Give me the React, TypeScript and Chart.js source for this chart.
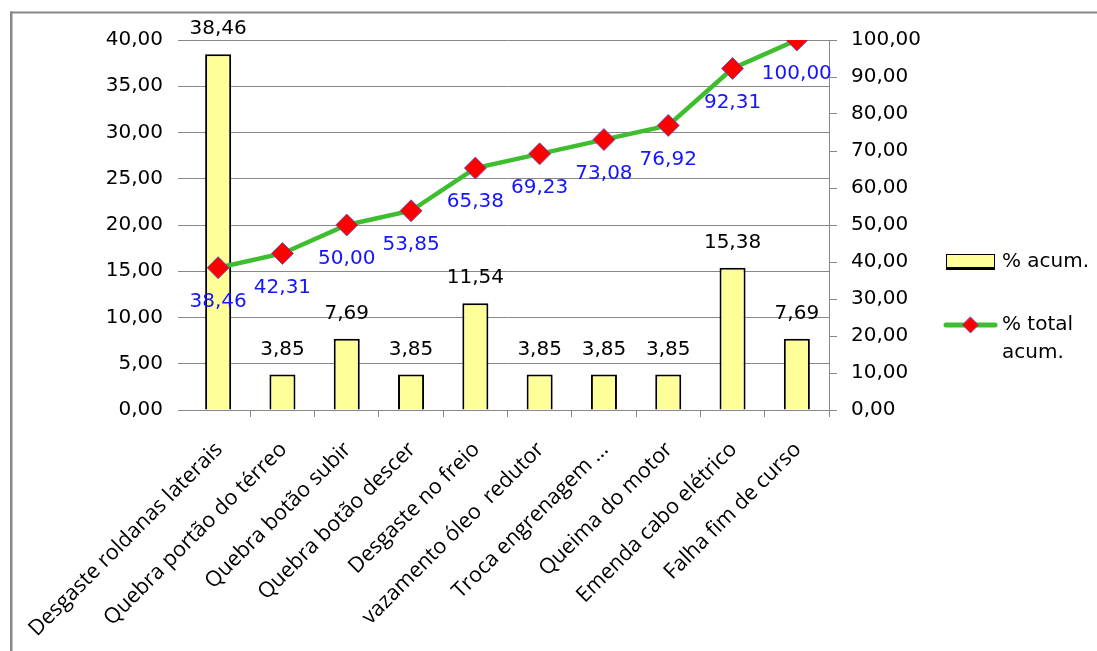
import React, { useEffect, useRef } from 'react';
import { Chart, registerables } from 'chart.js';

Chart.register(...registerables);

const categories = [
  'Desgaste roldanas laterais',
  'Quebra portão do térreo',
  'Quebra botão subir',
  'Quebra botão descer',
  'Desgaste no freio',
  'vazamento óleo  redutor',
  'Troca engrenagem ...',
  'Queima do motor',
  'Emenda cabo elétrico',
  'Falha fim de curso',
];

const barValues = [38.46, 3.85, 7.69, 3.85, 11.54, 3.85, 3.85, 3.85, 15.38, 7.69];
const cumValues = [38.46, 42.31, 50.0, 53.85, 65.38, 69.23, 73.08, 76.92, 92.31, 100.0];
const seriesNames = ['% acum.', '% total acum.'];
const legendLines = [['% acum.'], ['% total', 'acum.']];

const leftAxis = { min: 0, max: 40, step: 5 };
const rightAxis = { min: 0, max: 100, step: 10 };

const GRID = '#888888';
const BAR_FILL = '#FFFF99';
const LINE_GREEN = '#3EBE2E';
const MARK_RED = '#FF0000';
const LABEL_BLUE = '#1414FF';
const NUM_FONT = '20px "DejaVu Sans"';

const fmt = (v: number) => Number(v).toFixed(2).replace('.', ',');

const decorPlugin = {
  id: 'decor',
  afterDatasetsDraw(chart: any) {
    const ctx = chart.ctx;
    ctx.save();
    ctx.font = NUM_FONT;
    ctx.textAlign = 'center';
    ctx.textBaseline = 'middle';
    const barMeta = chart.getDatasetMeta(0);
    ctx.fillStyle = '#000';
    barMeta.data.forEach((el: any, i: number) => {
      ctx.fillText(fmt(barValues[i]), el.x, el.y - 25);
    });
    const lineMeta = chart.getDatasetMeta(1);
    ctx.fillStyle = LABEL_BLUE;
    lineMeta.data.forEach((el: any, i: number) => {
      ctx.fillText(fmt(cumValues[i]), el.x, el.y + 34);
    });
    ctx.restore();
  },
  afterDraw(chart: any) {
    const ctx = chart.ctx;
    ctx.save();
    // outer frame (clipped chart border)
    ctx.fillStyle = '#878787';
    ctx.fillRect(10, 11.5, 1087, 2);
    ctx.fillRect(10, 11.5, 2.5, 640);

    // legend
    const ds = chart.data.datasets;
    ctx.fillStyle = ds[0].backgroundColor;
    ctx.fillRect(946, 254, 49, 15);
    ctx.strokeStyle = '#000';
    ctx.lineWidth = 1;
    ctx.strokeRect(946.5, 254.5, 48, 14);
    ctx.fillStyle = '#000';
    ctx.fillRect(946, 267, 49, 3);
    ctx.strokeStyle = ds[1].borderColor;
    ctx.lineWidth = 5;
    ctx.lineCap = 'round';
    ctx.beginPath();
    ctx.moveTo(946, 325);
    ctx.lineTo(995, 325);
    ctx.stroke();
    ctx.fillStyle = ds[1].pointBackgroundColor;
    ctx.strokeStyle = ds[1].pointBorderColor;
    ctx.lineWidth = 1;
    ctx.beginPath();
    ctx.moveTo(970.5, 317);
    ctx.lineTo(978.5, 325);
    ctx.lineTo(970.5, 333);
    ctx.lineTo(962.5, 325);
    ctx.closePath();
    ctx.fill();
    ctx.stroke();
    ctx.fillStyle = '#000';
    ctx.font = NUM_FONT;
    ctx.textAlign = 'left';
    ctx.textBaseline = 'middle';
    ctx.fillText(legendLines[0][0], 1002, 262);
    ctx.fillText(legendLines[1][0], 1002, 325);
    ctx.fillText(legendLines[1][1], 1002, 353);
    ctx.restore();
  },
};

export default function App() {
  const canvasRef = useRef<HTMLCanvasElement | null>(null);

  useEffect(() => {
    const canvas = canvasRef.current;
    if (!canvas) return;
    const chart = new Chart(canvas, {
      type: 'bar',
      data: {
        labels: categories,
        datasets: [
          {
            type: 'bar',
            label: seriesNames[0],
            data: barValues,
            yAxisID: 'y',
            backgroundColor: BAR_FILL,
            borderColor: '#000000',
            borderWidth: 2,
            borderSkipped: 'start',
            barPercentage: 0.405,
            categoryPercentage: 1,
            order: 2,
          } as any,
          {
            type: 'line',
            label: seriesNames[1],
            data: cumValues,
            yAxisID: 'y1',
            borderColor: LINE_GREEN,
            borderWidth: 4.5,
            tension: 0,
            pointStyle: 'rectRot',
            pointRadius: 11,
            pointBackgroundColor: MARK_RED,
            pointBorderColor: 'rgba(90,90,190,0.9)',
            pointBorderWidth: 1,
            order: 1,
          } as any,
        ],
      },
      options: {
        responsive: false,
        animation: false,
        devicePixelRatio: 1,
        layout: { padding: { left: 106, right: 176, top: 40, bottom: 0 } },
        plugins: {
          legend: { display: false },
          tooltip: { enabled: false },
        },
        scales: {
          x: {
            offset: true,
            grid: {
              offset: true,
              drawOnChartArea: false,
              drawTicks: true,
              tickLength: 7,
              color: GRID,
              tickColor: (c: any) => (c.index === 0 ? 'rgba(0,0,0,0)' : GRID),
            },
            border: { display: true, color: GRID, width: 1 },
            ticks: {
              autoSkip: false,
              minRotation: 45,
              maxRotation: 45,
              padding: 20,
              labelOffset: 1,
              color: '#000',
              font: { family: '"Open Sans"', size: 21.5 },
            },
            afterFit: (s: any) => {
              s.height = 241;
              s.paddingLeft = 0;
              s.paddingRight = 0;
            },
          },
          y: {
            position: 'left',
            min: leftAxis.min,
            max: leftAxis.max,
            ticks: {
              stepSize: leftAxis.step,
              padding: 15,
              color: '#000',
              font: { family: '"DejaVu Sans"', size: 20 },
              callback: (v: any) => fmt(v),
            },
            grid: { color: GRID, tickLength: 8, drawTicks: true, lineWidth: 1 },
            border: { display: false },
            afterFit: (s: any) => {
              s.width = 80;
            },
          },
          y1: {
            position: 'right',
            min: rightAxis.min,
            max: rightAxis.max,
            ticks: {
              stepSize: rightAxis.step,
              padding: 14,
              color: '#000',
              font: { family: '"DejaVu Sans"', size: 20 },
              callback: (v: any) => fmt(v),
            },
            grid: { drawOnChartArea: false, tickLength: 8, color: GRID },
            border: { display: true, color: GRID, width: 1 },
            afterFit: (s: any) => {
              s.width = 92;
            },
          },
        },
      } as any,
      plugins: [decorPlugin],
    });
    return () => chart.destroy();
  }, []);

  return (
    <div style={{ position: 'fixed', left: 0, top: 0, width: 1097, height: 651, background: '#fff' }}>
      <canvas ref={canvasRef} width={1097} height={651} style={{ display: 'block' }} />
    </div>
  );
}
